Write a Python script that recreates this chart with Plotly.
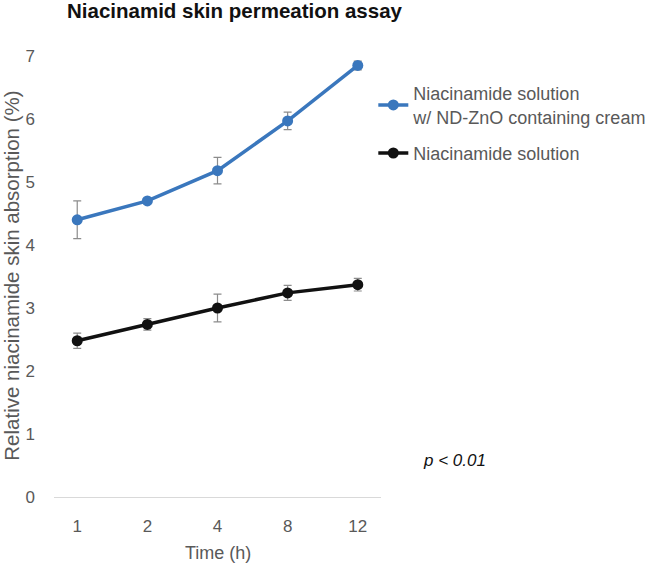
import plotly.graph_objects as go

time_labels = ["1", "2", "4", "8", "12"]
cream_values = [4.40, 4.70, 5.18, 5.97, 6.85]
cream_errors = [0.30, 0.03, 0.21, 0.14, 0.07]
solution_values = [2.48, 2.74, 3.00, 3.24, 3.37]
solution_errors = [0.12, 0.09, 0.22, 0.12, 0.10]

W, H = 664, 564
L, R, T, B = 54, 270, 56, 67
pw, ph = W - L - R, H - T - B


def px_x(x):
    return (x - L) / pw


def px_y(y):
    return (H - B - y) / ph


fig = go.Figure()
fig.add_trace(go.Scatter(
    x=time_labels, y=cream_values, mode="lines+markers",
    name="Niacinamide solution<br>w/ ND-ZnO containing cream", legendgroup="a",
    line=dict(color="#3a77bd", width=3.5),
    marker=dict(color="#3a77bd", size=11),
    error_y=dict(type="data", array=cream_errors, color="#8c8c8c", thickness=1.2, width=4),
    cliponaxis=False,
))
fig.add_trace(go.Scatter(
    x=time_labels, y=solution_values, mode="lines+markers",
    name="Niacinamide solution", legendgroup="b",
    line=dict(color="#111111", width=3.5),
    marker=dict(color="#111111", size=11),
    error_y=dict(type="data", array=solution_errors, color="#8c8c8c", thickness=1.2, width=4),
    cliponaxis=False,
))

fig.update_layout(
    width=W, height=H,
    margin=dict(l=L, r=R, t=T, b=B),
    paper_bgcolor="white", plot_bgcolor="white",
    font=dict(family="Liberation Sans, Arial, sans-serif", color="#595959"),
    title=dict(text="<b>Niacinamid skin permeation assay</b>", x=67 / W, xanchor="left",
               y=1 - 11 / H, yanchor="middle", font=dict(size=20.5, color="#111111")),
    showlegend=True,
    legend=dict(x=px_x(386), xanchor="left", y=px_y(75), yanchor="top",
                font=dict(size=18, color="#595959"),
                tracegroupgap=10, itemwidth=30, bgcolor="rgba(0,0,0,0)"),
    xaxis=dict(type="category", showgrid=False, showline=True, linecolor="#d9d9d9", linewidth=1,
               ticks="", tickfont=dict(size=17, color="#595959"), ticklabelstandoff=14,
               automargin=False, zeroline=False),
    yaxis=dict(range=[0, 7], dtick=1, showgrid=False, showline=False, zeroline=False, ticks="",
               tickfont=dict(size=17, color="#595959"), ticklabelstandoff=18, automargin=False),
    annotations=[
        dict(text="<i>p < 0.01</i>", xref="paper", yref="paper",
             x=px_x(470), y=px_y(460), showarrow=False,
             xanchor="center", yanchor="middle",
             font=dict(size=17, color="#111111")),
        dict(text="Relative niacinamide skin absorption (%)", xref="paper", yref="paper",
             x=px_x(9), y=px_y(276), textangle=-90, showarrow=False,
             xanchor="center", yanchor="middle",
             font=dict(size=20.5, color="#595959")),
        dict(text="Time (h)", xref="paper", yref="paper",
             x=px_x(224), y=px_y(553), showarrow=False,
             xanchor="center", yanchor="middle",
             font=dict(size=18, color="#595959")),
    ],
)

fig.write_html("out.html", config={"displayModeBar": False},
               post_script="document.body.style.margin='0';")
